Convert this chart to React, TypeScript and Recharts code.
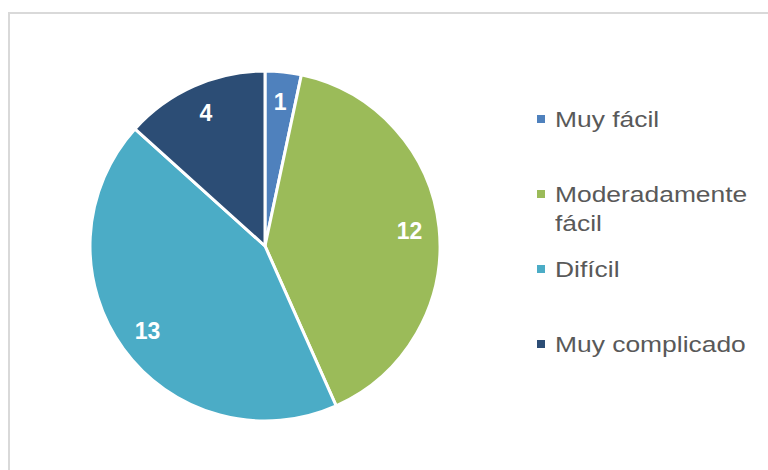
import React from 'react';
import { Cell, Legend, Pie, PieChart } from 'recharts';

// Data
const categories = ['Muy fácil', 'Moderadamente fácil', 'Difícil', 'Muy complicado'];
const counts = [1, 12, 13, 4];
const colors = ['#4F81BD', '#9BBB59', '#4BACC6', '#2C4D75'];

const data = categories.map((name, i) => ({ name, value: counts[i] }));

const RAD = Math.PI / 180;
const FONT = '"Liberation Sans", Arial, sans-serif';

const renderLabel = (props: any) => {
  const { cx, cy, midAngle, outerRadius, value } = props;
  const r = outerRadius * 0.83;
  const x = cx + r * Math.cos(-midAngle * RAD);
  const y = cy + r * Math.sin(-midAngle * RAD);
  return (
    <text
      x={x}
      y={y}
      fill="#ffffff"
      textAnchor="middle"
      dominantBaseline="central"
      fontFamily={FONT}
      fontSize={23}
      fontWeight="bold"
    >
      {value}
    </text>
  );
};

const LegendContent = () => (
  <div style={{ fontFamily: FONT }}>
    {categories.map((name, i) => (
      <div key={name} style={{ position: 'relative', height: 75 }}>
        <div
          style={{
            position: 'absolute',
            left: 0,
            top: 10,
            width: 8,
            height: 8,
            background: colors[i],
          }}
        />
        <div
          style={{
            position: 'absolute',
            left: 18,
            top: 0,
            width: 170,
            fontSize: 22,
            lineHeight: '29px',
            color: '#595959',
            transform: 'scaleX(1.2)',
            transformOrigin: 'left top',
          }}
        >
          {name}
        </div>
      </div>
    ))}
  </div>
);

export default function App() {
  return (
    <div
      style={{
        position: 'absolute',
        left: 8,
        top: 12,
        width: 760,
        height: 458,
        borderLeft: '2px solid #d9d9d9',
        borderTop: '2px solid #d9d9d9',
        background: '#fff',
      }}
    >
      <PieChart width={758} height={456} margin={{ top: 0, right: 0, bottom: 0, left: 0 }}>
        <Pie
          data={data}
          dataKey="value"
          nameKey="name"
          cx={255}
          cy={232}
          outerRadius={175}
          startAngle={90}
          endAngle={-270}
          stroke="#ffffff"
          strokeWidth={3}
          label={renderLabel}
          labelLine={false}
          isAnimationActive={false}
        >
          {data.map((d, i) => (
            <Cell key={d.name} fill={colors[i]} />
          ))}
        </Pie>
        <Legend
          content={<LegendContent />}
          wrapperStyle={{ left: 527, top: 91, width: 230, right: 'auto', bottom: 'auto' }}
        />
      </PieChart>
    </div>
  );
}
